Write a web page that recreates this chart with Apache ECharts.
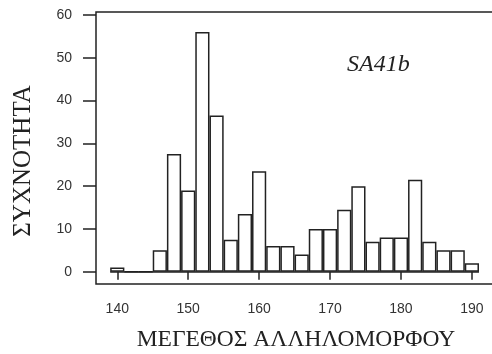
<!DOCTYPE html>
<html>
<head>
<meta charset="utf-8">
<script src="https://cdn.jsdelivr.net/npm/echarts@6/dist/echarts.min.js"></script>
<style>
html, body { margin: 0; padding: 0; background: #fff; }
#chart { width: 492px; height: 354px; }
</style>
</head>
<body>
<div id="chart"></div>
<script>
// allele size bins (centre of each 2-unit bin) and frequency
var bin_centers = [140, 142, 144, 146, 148, 150, 152, 154, 156, 158, 160, 162, 164, 166,
                   168, 170, 172, 174, 176, 178, 180, 182, 184, 186, 188, 190];
var freq = [1, 0, 0, 5, 27.5, 19, 56, 36.5, 7.5, 13.5, 23.5, 6, 6, 4,
            10, 10, 14.5, 20, 7, 8, 8, 21.5, 7, 5, 5, 2];
var x_ticks = [140, 150, 160, 170, 180, 190];
var y_ticks = [0, 10, 20, 30, 40, 50, 60];
var bin_width = 2;

var x_name = 'ΜΕΓΕΘΟΣ ΑΛΛΗΛΟΜΟΡΦΟΥ';
var y_name = 'ΣΥΧΝΟΤΗΤΑ';
var marker_name = 'SA41b';

function generateHistogram() {
    var chartDom = document.getElementById('chart');
    var myChart = echarts.init(chartDom);
    var option;

    var data = bin_centers.map(function (c, i) { return [c, freq[i]]; });
    var first_edge = bin_centers[0] - bin_width / 2;
    var last_edge = bin_centers[bin_centers.length - 1] + bin_width / 2;

    option = {
        animation: false,
        title: {
            text: marker_name,
            left: 342,
            top: 48,
            textStyle: {
                fontFamily: 'Liberation Serif',
                fontStyle: 'italic',
                fontWeight: 'normal',
                fontSize: 24,
                color: '#222'
            }
        },
        grid: {
            left: 96,
            top: 12,
            width: 400,
            height: 272,
            outerBoundsMode: 'none',
            containLabel: false,
            show: true,
            borderColor: '#222',
            borderWidth: 1.5
        },
        xAxis: {
            type: 'value',
            min: 137,
            max: 193.4,
            name: x_name,
            nameLocation: 'middle',
            nameGap: 44,
            nameTextStyle: {
                fontFamily: 'Liberation Serif',
                fontSize: 23.5,
                color: '#222'
            },
            axisLine: { show: false },
            splitLine: { show: false },
            axisTick: {
                customValues: x_ticks,
                length: 8,
                lineStyle: { color: '#222', width: 1.5 }
            },
            axisLabel: {
                customValues: x_ticks,
                margin: 18,
                fontFamily: 'Liberation Sans',
                fontSize: 14,
                color: '#333'
            }
        },
        yAxis: {
            type: 'value',
            min: -2.87,
            max: 60.7,
            name: y_name,
            nameLocation: 'middle',
            nameGap: 60,
            nameTextStyle: {
                fontFamily: 'Liberation Serif',
                fontSize: 25,
                color: '#222',
                padding: [0, 26, 0, 0]
            },
            axisLine: { show: false },
            splitLine: { show: false },
            axisTick: {
                customValues: y_ticks,
                length: 13,
                lineStyle: { color: '#222', width: 1.5 }
            },
            axisLabel: {
                customValues: y_ticks,
                margin: 24,
                fontFamily: 'Liberation Sans',
                fontSize: 14,
                color: '#333'
            }
        },
        series: [
            {
                type: 'bar',
                data: data,
                barWidth: 14.2,
                itemStyle: {
                    color: '#fff',
                    borderColor: '#222',
                    borderWidth: 1.5
                },
                markLine: {
                    silent: true,
                    symbol: 'none',
                    label: { show: false },
                    lineStyle: { type: 'solid', color: '#222', width: 1.5 },
                    data: [[{ coord: [first_edge, 0] }, { coord: [last_edge, 0] }]]
                }
            }
        ]
    };

    option && myChart.setOption(option);
}

generateHistogram();
</script>
</body>
</html>
